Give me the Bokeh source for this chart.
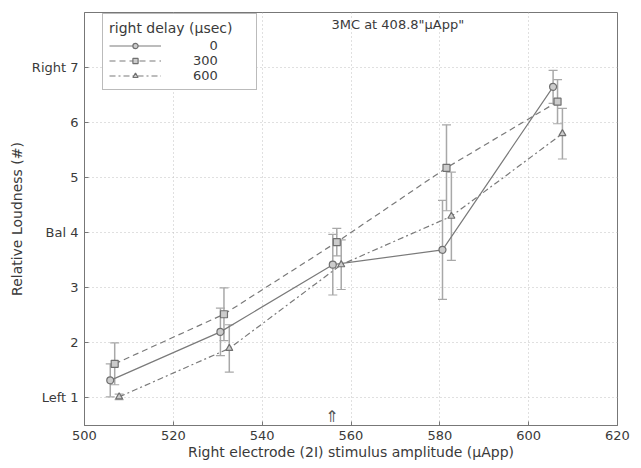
from bokeh.plotting import figure
from bokeh.models import (ColumnDataSource, Whisker, TeeHead, Legend, LegendItem,
                          FixedTicker, Range1d)
from bokeh.core.properties import value
from bokeh.embed import file_html
from bokeh.resources import INLINE

# ---- data ----
delays = ["0", "300", "600"]
x_0 = [505.8, 530.6, 555.9, 580.6, 605.5]
y_0 = [1.32, 2.20, 3.42, 3.69, 6.65]
e_0 = [0.30, 0.43, 0.55, 0.90, 0.30]

x_300 = [506.8, 531.4, 556.8, 581.5, 606.5]
y_300 = [1.62, 2.52, 3.83, 5.18, 6.38]
e_300 = [0.38, 0.48, 0.25, 0.78, 0.40]

x_600 = [507.8, 532.6, 557.8, 582.6, 607.6]
y_600 = [1.02, 1.90, 3.42, 4.30, 5.80]
e_600 = [0.05, 0.43, 0.45, 0.80, 0.46]

x_ticks = [500, 520, 540, 560, 580, 600, 620]
y_ticks = [1, 2, 3, 4, 5, 6, 7]
y_tick_labels = ["Left 1", "2", "3", "Bal 4", "5", "6", "Right 7"]

arrow_x = [555.7]
arrow_y = [0.5]
title_text = '3MC at 408.8"µApp"'
title_x = [555.6]
title_y = [7.78]

FONT = "DejaVu Sans"
TXT = "#3a3a3a"

p = figure(width=633, height=466, output_backend="svg", toolbar_location=None,
           x_range=Range1d(500, 620), y_range=Range1d(0.5, 8.0),
           min_border_left=84, min_border_right=16, min_border_top=12,
           min_border_bottom=41)
p.background_fill_color = "white"
p.border_fill_color = "white"
p.outline_line_color = "#777777"
p.outline_line_width = 1

# grid
for g in (p.xgrid, p.ygrid):
    g.grid_line_color = "#c0c0c0"
    g.grid_line_dash = "1 3"
    g.grid_line_width = 1
p.xgrid.ticker = FixedTicker(ticks=x_ticks)
p.ygrid.ticker = FixedTicker(ticks=y_ticks)

# axes
p.xaxis.ticker = FixedTicker(ticks=x_ticks)
p.yaxis.ticker = FixedTicker(ticks=y_ticks)
p.yaxis.major_label_overrides = {t: l for t, l in zip(y_ticks, y_tick_labels)}
p.xaxis.axis_label = "Right electrode (2I) stimulus amplitude (µApp)"
p.yaxis.axis_label = "Relative Loudness (#)"
for ax in (p.xaxis[0], p.yaxis[0]):
    ax.axis_line_color = "#777777"
    ax.major_tick_line_color = "#777777"
    ax.major_tick_in = 4
    ax.major_tick_out = 0
    ax.minor_tick_line_color = None
    ax.major_label_text_font = FONT
    ax.major_label_text_font_size = "13px"
    ax.major_label_text_color = TXT
    ax.axis_label_text_font = FONT
    ax.axis_label_text_font_size = "14px"
    ax.axis_label_text_font_style = "normal"
    ax.axis_label_text_color = TXT
p.xaxis.major_label_standoff = 5
p.xaxis.axis_label_standoff = 1
p.yaxis.major_label_standoff = 6
p.yaxis.axis_label_standoff = 4

LINE = "#7a7a7a"
ERR = "#a8a8a8"

series = [
    (x_0, y_0, e_0, "solid", "circle"),
    (x_300, y_300, e_300, "6 4", "square"),
    (x_600, y_600, e_600, "6 3 2 3", "triangle"),
]
items = []
for (xs, ys, es, dash, marker), name in zip(series, delays):
    src = ColumnDataSource(dict(x=xs, y=ys,
                                lo=[y - e for y, e in zip(ys, es)],
                                hi=[y + e for y, e in zip(ys, es)]))
    w = Whisker(base="x", lower="lo", upper="hi", source=src,
                line_color=ERR, line_width=1.5,
                upper_head=TeeHead(size=9, line_color=ERR, line_width=1.2),
                lower_head=TeeHead(size=9, line_color=ERR, line_width=1.2))
    p.add_layout(w)
    ln = p.line("x", "y", source=src, line_color=LINE, line_width=1.2, line_dash=dash)
    sc = p.scatter("x", "y", source=src, marker=marker, size=7,
                   line_color="#707070", fill_color="#cccccc", line_width=1.2)
    label = name.rjust(3, "\u2007")
    items.append(LegendItem(label=label, renderers=[ln, sc]))

# arrow marker at the bottom
p.text(x=arrow_x, y=arrow_y, text=["⇑"], text_font=value("DejaVu Sans"),
       text_font_size="16px", text_color="#555555", text_align="center",
       text_baseline="bottom")

# title inside plot
p.text(x=title_x, y=title_y, text=[title_text], text_font=value(FONT),
       text_font_size="13px", text_color=TXT, text_align="left",
       text_baseline="middle")

legend = Legend(items=items, location=(18, 335), title="right delay (µsec)",
                title_text_font=FONT, title_text_font_size="14px",
                title_text_color=TXT, title_text_font_style="normal",
                title_standoff=2,
                label_text_font=FONT, label_text_font_size="13px",
                label_text_color=TXT, label_standoff=32, label_width=57,
                glyph_width=52, glyph_height=13, label_height=13,
                spacing=0, padding=6, margin=0,
                border_line_color="#777777", border_line_width=1,
                background_fill_alpha=1.0)
p.add_layout(legend)

open("out.html", "w").write(file_html(p, INLINE))
